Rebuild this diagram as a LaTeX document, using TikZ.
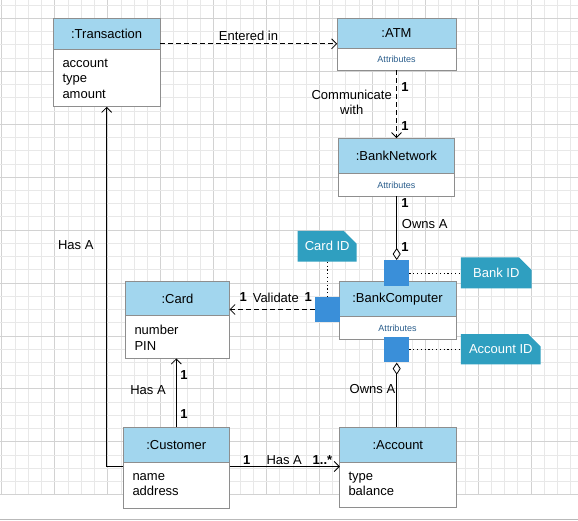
\documentclass[tikz,border=0pt]{standalone}
\usepackage{fontspec}
\setmainfont{Liberation Sans}
\usetikzlibrary{calc,arrows.meta,shapes.misc}
\definecolor{hdrblue}{HTML}{A2D6EE}
\definecolor{boxgray}{HTML}{8E8E8E}
\definecolor{portblue}{HTML}{3A8FD9}
\definecolor{noteteal}{HTML}{2F9FC0}
\definecolor{gridminor}{HTML}{E8E8E8}
\definecolor{gridmajor}{HTML}{D2D2D2}
\definecolor{attrblue}{HTML}{2B5E8C}
\tikzset{
  boxline/.style={draw=boxgray, line width=0.8pt},
  clsbody/.style={fill=white, inner sep=0pt},
  hdrtext/.style={font=\fontsize{13}{15}\selectfont, inner sep=0pt},
  bodytext/.style={font=\fontsize{13}{15}\selectfont, inner sep=0pt, anchor=base west},
  attrtext/.style={font=\fontsize{9}{11}\selectfont, text=attrblue, inner sep=0pt},
  lbl/.style={font=\fontsize{13}{15}\selectfont, inner sep=0pt, align=center},
  mult/.style={font=\fontsize{13}{15}\selectfont\bfseries, inner sep=0pt},
  conn/.style={line width=0.8pt, black},
  dashconn/.style={conn, dash pattern=on 5pt off 3pt},
  dotconn/.style={line width=0.9pt, black, dash pattern=on 1.2pt off 2.6pt},
  opentip/.tip={Straight Barb[length=5pt,width=10pt,line width=0.8pt]},
  aggtip/.tip={Diamond[open,length=12pt,width=8pt,line width=0.8pt]},
  port/.style={fill=portblue, minimum width=25pt, minimum height=25.5pt, inner sep=0pt},
  note/.style={chamfered rectangle, chamfered rectangle corners=north east,
    chamfered rectangle xsep=8pt, chamfered rectangle ysep=8pt,
    fill=noteteal, text=white, font=\fontsize{13}{15}\selectfont, inner sep=0pt},
}
\newcommand\umlbox[6]{%
  \node[clsbody, minimum width=#4pt, minimum height=#5pt] (#1) at (#2,#3) {};
  \fill[hdrblue] (#1.north west) rectangle ($(#1.north east)+(0,#6)$);
  \draw[boxline] (#1.north west) rectangle (#1.south east);
  \draw[boxline] ($(#1.north west)+(0,#6)$) -- ($(#1.north east)+(0,#6)$);
}
\begin{document}
\begin{tikzpicture}[x=1pt,y=-1pt]
\useasboundingbox (0,0) rectangle (578,521);
\fill[white] (0,0) rectangle (578,521);
% grid
\foreach \i in {0,...,43} {
  \pgfmathsetmacro\gx{1.8+\i*13.23}
  \pgfmathtruncatemacro\m{mod(\i,4)}
  \ifnum\m=0 \draw[gridmajor, line width=0.7pt] (\gx,0) -- (\gx,494.6);
  \else \draw[gridminor, line width=0.7pt] (\gx,0) -- (\gx,494.6); \fi
}
\foreach \j in {0,...,37} {
  \pgfmathsetmacro\gy{5.1+\j*13.23}
  \pgfmathtruncatemacro\m{mod(\j+3,4)}
  \ifnum\m=0 \draw[gridmajor, line width=0.7pt] (0,\gy) -- (578,\gy);
  \else \draw[gridminor, line width=0.7pt] (0,\gy) -- (578,\gy); \fi
}
\draw[gray!55, line width=1.2pt] (0,519.8) -- (578,519.8);

% classes
\umlbox{tr}{106.65}{62.5}{106.7}{88.4}{31}
\umlbox{atm}{396.5}{44.15}{118.4}{51.7}{30}
\umlbox{bn}{396.3}{167.15}{116}{57.7}{35.7}
\umlbox{bc}{397.5}{310.35}{116.4}{57.3}{35}
\umlbox{card}{177.5}{320}{103.6}{76.6}{34.3}
\umlbox{cust}{176.3}{467.8}{106}{81}{35}
\umlbox{acct}{397.85}{467.3}{115.7}{80}{35}

% class texts
\node[hdrtext] (tr-h) at (106.65,33.8) {:Transaction};
\node[bodytext] (tr-1) at (62.3,67.3) {account};
\node[bodytext] (tr-2) at (62.3,83.0) {type};
\node[bodytext] (tr-3) at (62.3,98.6) {amount};
\node[hdrtext] (atm-h) at (396.5,33.4) {:ATM};
\node[attrtext] (atm-a) at (396.5,59.5) {Attributes};
\node[hdrtext] (bn-h) at (396.3,156.2) {:BankNetwork};
\node[attrtext] (bn-a) at (396.3,185.2) {Attributes};
\node[hdrtext] (bc-h) at (397.5,299.5) {:BankComputer};
\node[attrtext] (bc-a) at (397.5,328.2) {Attributes};
\node[hdrtext] (card-h) at (177.5,299.2) {:Card};
\node[bodytext] (card-1) at (134.3,334.0) {number};
\node[bodytext] (card-2) at (134.3,350.7) {PIN};
\node[hdrtext] (cust-h) at (176.3,445.2) {:Customer};
\node[bodytext] (cust-1) at (132.3,480.0) {name};
\node[bodytext] (cust-2) at (132.3,495.8) {address};
\node[hdrtext] (acct-h) at (397.8,445.2) {:Account};
\node[bodytext] (acct-1) at (348.3,480.0) {type};
\node[bodytext] (acct-2) at (348.3,495.5) {balance};

% ports
\node[port] (p1) at (396.7,273) {};
\node[port] (p2) at (327.5,309.5) {};
\node[port] (p3) at (396.7,349.7) {};

% notes
\node[note, minimum width=59pt, minimum height=30.7pt] (cardid) at (327.2,246.3) {Card ID};
\node[note, minimum width=70.7pt, minimum height=31pt] (bankid) at (496.3,272.8) {Bank ID};
\node[note, minimum width=79.7pt, minimum height=30.3pt] (acctid) at (500.8,349.2) {Account ID};

% dotted links
\draw[dotconn] (p2.north |- cardid.south) -- (p2.north);
\draw[dotconn] (p1.east) -- (p1.east -| bankid.west);
\draw[dotconn] (p3.east) -- (p3.east -| acctid.west);

% connectors
\draw[dashconn, -opentip] ($(tr.north east)+(0,25.7)$) coordinate (e1) -- (e1 -| atm.west);
\node[lbl] (l-entered) at (248.5,35.5) {Entered in};

\draw[dashconn, -opentip] (atm.south) -- (atm.south |- bn.north);
\node[lbl] (l-comm) at (351.7,102.5) {Communicate\\with};
\node[mult] (m1) at (405,87) {1};
\node[mult] (m2) at (405,126) {1};

\draw[conn, -aggtip] (p1.north |- bn.south) -- (p1.north);
\node[mult] (m3) at (405,203) {1};
\node[lbl] (l-owns1) at (424.7,224) {Owns A};
\node[mult] (m4) at (405,247) {1};

\draw[conn, aggtip-] (p3.south) -- (p3.south |- acct.north);
\node[lbl] (l-owns2) at (372.5,389) {Owns A};

\draw[dashconn, -opentip] (p2.west) -- (p2.west -| card.east);
\node[mult] (m5) at (243.3,297.5) {1};
\node[lbl] (l-valid) at (275.8,297.5) {Validate};
\node[mult] (m6) at (308.3,297.5) {1};

\draw[conn, -opentip] (cust.north) -- (cust.north |- card.south);
\node[lbl] (l-hasa1) at (148,390) {Has A};
\node[mult] (m7) at (184,375) {1};
\node[mult] (m8) at (184,414.5) {1};

\draw[conn, -opentip] ($(cust.north east)+(0,39.4)$) coordinate (c1) -- (c1 -| acct.west);
\node[mult] (m9) at (246.7,460.5) {1};
\node[lbl] (l-hasa2) at (284.2,460.5) {Has A};
\node[mult] (m10) at (322.5,460.5) {1..*};

\draw[conn, -opentip] ($(cust.north west)+(0,39.4)$) coordinate (c2) -| (tr.south);
\node[lbl] (l-hasa3) at (75.8,245) {Has A};
\end{tikzpicture}
\end{document}
